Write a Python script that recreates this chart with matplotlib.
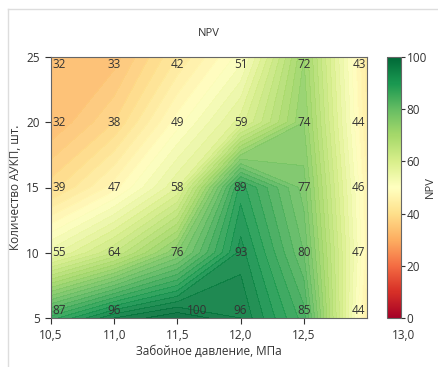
import numpy as np
import matplotlib
matplotlib.use("Agg")
import matplotlib.pyplot as plt
from matplotlib.lines import Line2D
from matplotlib.cm import ScalarMappable
from matplotlib.colors import Normalize

plt.rcParams['font.family'] = ['Open Sans', 'DejaVu Sans']

pressure = [10.5, 11.0, 11.5, 12.0, 12.5, 13.0]
count = [5, 10, 15, 20, 25]
npv = [
    [87, 96, 100, 96, 85, 44],   # 5
    [55, 64, 76, 93, 80, 47],    # 10
    [39, 47, 58, 89, 77, 46],    # 15
    [32, 38, 49, 59, 74, 44],    # 20
    [32, 33, 42, 51, 72, 43],    # 25
]
xtick_vals = [10.5, 11.0, 11.5, 12.0, 12.5]
xtick_labels = ["10,5", "11,0", "11,5", "12,0", "12,5"]
extra_xtick_label = "13,0"
ytick_vals = [5, 10, 15, 20, 25]
cbar_ticks = [0, 20, 40, 60, 80, 100]

W, H = 439, 367
fig = plt.figure(figsize=(W / 100, H / 100), dpi=100)
ax = fig.add_axes([51 / W, (H - 318) / H, 316 / W, 261 / H])
cax = fig.add_axes([387 / W, (H - 318) / H, 14 / W, 261 / H])

X, Y = np.meshgrid(pressure, count)
Z = np.array(npv, dtype=float)
cmap = plt.get_cmap('RdYlGn')
levels = np.linspace(0, 100, 51)
ax.contourf(X, Y, Z, levels=levels, cmap=cmap, vmin=0, vmax=100, alpha=0.92)
ax.set_xlim(10.5, 13.0)
ax.set_ylim(5, 25)

txt = '#333333'
for i, yv in enumerate(count):
    for j, xv in enumerate(pressure):
        ha = 'center'
        va = 'center'
        dx, dy = 0, 0
        if j == 0:
            ha = 'left'; dx = 1
        elif j == len(pressure) - 1:
            ha = 'right'; dx = -1
        if i == 0:
            va = 'bottom'; dy = 1
        elif i == len(count) - 1:
            va = 'top'; dy = -1
        if npv[i][j] == 100:
            dx = 14
        ax.annotate(str(npv[i][j]), (xv, yv), xytext=(dx, dy),
                    textcoords='offset points', ha=ha, va=va,
                    fontsize=8.5, color=txt)

ax.set_xticks(xtick_vals)
ax.set_xticklabels(xtick_labels)
ax.set_yticks(ytick_vals)
ax.tick_params(axis='both', labelsize=8.5, colors=txt, length=4, width=0.8,
               direction='out', pad=4)
for s in ax.spines.values():
    s.set_color('#666666')
    s.set_linewidth(0.8)
# stray "13,0" label that sits under the colour bar in the reference
ax.annotate(extra_xtick_label, (1.0, 0.0), xycoords='axes fraction',
            xytext=(26, -8), textcoords='offset points',
            ha='center', va='top', fontsize=8.5, color=txt,
            annotation_clip=False)

ax.set_xlabel("Забойное давление, МПа", fontsize=8.5, color=txt, labelpad=2)
ax.set_ylabel("Количество АУКП, шт.", fontsize=8.5, color=txt, labelpad=3)
ax.set_title("NPV", fontsize=8, color=txt, pad=15)

sm = ScalarMappable(norm=Normalize(0, 100), cmap=cmap)
cb = fig.colorbar(sm, cax=cax, ticks=cbar_ticks)
cb.outline.set_edgecolor('#666666')
cb.outline.set_linewidth(0.8)
cax.tick_params(labelsize=8.5, colors=txt, length=3, width=0.8, pad=1)
cb.set_label("NPV", fontsize=8, color=txt)
cax.yaxis.set_label_coords((425 - 387) / 14, 0.5)

fig.add_artist(Line2D([8 / W, 1], [1 - 9 / H, 1 - 9 / H], color='#dddddd', lw=1))
fig.add_artist(Line2D([8 / W, 8 / W], [0, 1 - 9 / H], color='#dddddd', lw=1))

fig.savefig("out.png", dpi=100)
